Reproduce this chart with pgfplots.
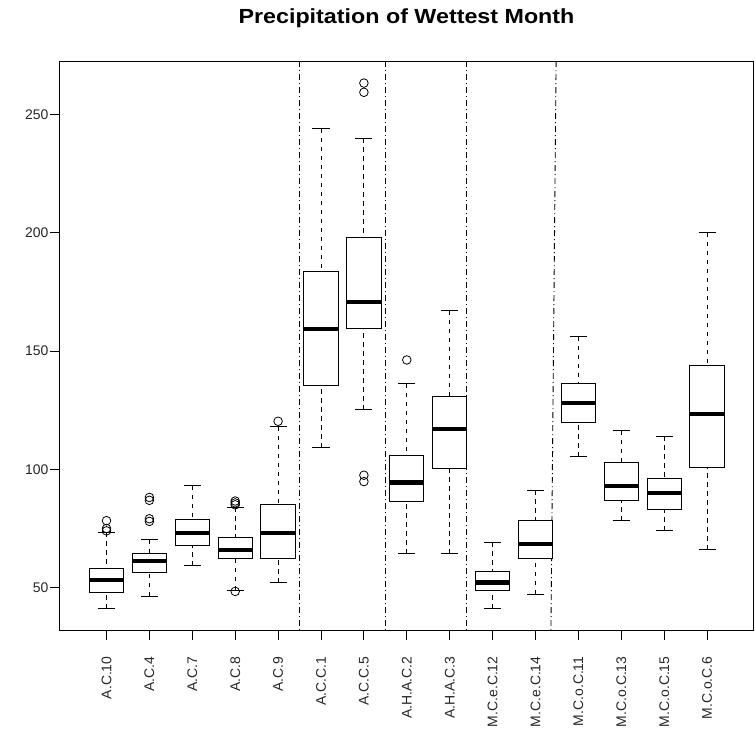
\documentclass[border=0pt]{standalone}
\usepackage{fontspec}
\setmainfont{Liberation Sans}
\usepackage{pgfplots}
\pgfplotsset{compat=1.18}
\usepgfplotslibrary{statistics}

\pgfplotsset{
  rbox/.style={
    black, mark=o, mark size=4.3bp,
    mark options={solid, line width=0.8bp, black},
    boxplot/draw direction=y,
    boxplot/box extend=0.8,
    boxplot/whisker extend=0.4,
    boxplot/every box/.style={draw=black, line width=1bp, fill=white},
    boxplot/every median/.style={line width=4.2bp, black},
    boxplot/draw/lower whisker/.code={
      \draw[black, line width=0.9bp, dash pattern=on 4.5bp off 4.5bp]
        (boxplot box cs:\pgfplotsboxplotvalue{lower whisker},0.5) --
        (boxplot box cs:\pgfplotsboxplotvalue{lower quartile},0.5);
      \draw[black, line width=1bp]
        (boxplot whisker cs:\pgfplotsboxplotvalue{lower whisker},0) --
        (boxplot whisker cs:\pgfplotsboxplotvalue{lower whisker},1);
    },
    boxplot/draw/upper whisker/.code={
      \draw[black, line width=0.9bp, dash pattern=on 4.5bp off 4.5bp]
        (boxplot box cs:\pgfplotsboxplotvalue{upper whisker},0.5) --
        (boxplot box cs:\pgfplotsboxplotvalue{upper quartile},0.5);
      \draw[black, line width=1bp]
        (boxplot whisker cs:\pgfplotsboxplotvalue{upper whisker},0) --
        (boxplot whisker cs:\pgfplotsboxplotvalue{upper whisker},1);
    },
  },
  sep/.style={black, line width=0.9bp, dash pattern=on 1bp off 3bp on 6bp off 3bp, mark=none},
}

\begin{document}
\begin{tikzpicture}
\begin{axis}[
  name=ax,
  scale only axis,
  width=693bp, height=568bp,
  xmin=-0.084, xmax=16.07,
  ymin=32.1, ymax=272.1,
  axis line style={line width=1bp, black},
  xtick={1,...,15},
  xticklabels={A.C.10,A.C.4,A.C.7,A.C.8,A.C.9,A.C.C.1,A.C.C.5,A.H.A.C.2,A.H.A.C.3,M.C.e.C.12,M.C.e.C.14,M.C.o.C.11,M.C.o.C.13,M.C.o.C.15,M.C.o.C.6},
  ytick={50,100,150,200,250},
  xtick pos=bottom, ytick pos=left,
  tick align=outside,
  major tick length=10bp,
  tick style={black, line width=0.9bp},
  /pgf/number format/assume math mode=true,
  ticklabel style={font=\fontsize{14}{14}\selectfont, text=black!85},
  xticklabel style={rotate=90, anchor=east},
  xticklabel shift=13bp,
  yticklabel shift=-2bp,
  clip=false,
]
\addplot[sep] coordinates {(5.49,32.1) (5.49,272.1)};
\addplot[sep] coordinates {(7.51,32.1) (7.51,272.1)};
\addplot[sep] coordinates {(9.40,32.1) (9.40,272.1)};
\addplot[sep] coordinates {(11.36,32.1) (11.48,272.1)};

\addplot[rbox, boxplot prepared={draw position=1, lower whisker=41.0, lower quartile=48.1, median=53.1, upper quartile=58.1, upper whisker=73.3}]
  coordinates {(0,78.3) (0,75.0) (0,74.0)};
\addplot[rbox, boxplot prepared={draw position=2, lower whisker=46.4, lower quartile=56.2, median=61.2, upper quartile=64.3, upper whisker=70.2}]
  coordinates {(0,88.1) (0,86.9) (0,79.1) (0,78.0)};
\addplot[rbox, boxplot prepared={draw position=3, lower whisker=59.3, lower quartile=67.9, median=73.2, upper quartile=78.8, upper whisker=93.1}]
  coordinates {};
\addplot[rbox, boxplot prepared={draw position=4, lower whisker=48.9, lower quartile=62.5, median=66.0, upper quartile=71.0, upper whisker=83.9}]
  coordinates {(0,86.6) (0,85.8) (0,85.0) (0,48.4)};
\addplot[rbox, boxplot prepared={draw position=5, lower whisker=52.0, lower quartile=62.5, median=73.2, upper quartile=85.0, upper whisker=118.0}]
  coordinates {(0,120.3)};
\addplot[rbox, boxplot prepared={draw position=6, lower whisker=109.1, lower quartile=135.3, median=159.3, upper quartile=183.5, upper whisker=243.8}]
  coordinates {};
\addplot[rbox, boxplot prepared={draw position=7, lower whisker=125.2, lower quartile=159.3, median=170.6, upper quartile=197.9, upper whisker=239.9}]
  coordinates {(0,263.2) (0,259.3) (0,97.5) (0,94.8)};
\addplot[rbox, boxplot prepared={draw position=8, lower whisker=64.3, lower quartile=86.3, median=94.4, upper quartile=106.0, upper whisker=136.1}]
  coordinates {(0,146.2)};
\addplot[rbox, boxplot prepared={draw position=9, lower whisker=64.3, lower quartile=100.3, median=116.9, upper quartile=130.9, upper whisker=167.0}]
  coordinates {};
\addplot[rbox, boxplot prepared={draw position=10, lower whisker=41.0, lower quartile=48.6, median=52.2, upper quartile=57.0, upper whisker=69.1}]
  coordinates {};
\addplot[rbox, boxplot prepared={draw position=11, lower whisker=47.2, lower quartile=62.5, median=68.4, upper quartile=78.3, upper whisker=91.2}]
  coordinates {};
\addplot[rbox, boxplot prepared={draw position=12, lower whisker=105.3, lower quartile=119.7, median=128.0, upper quartile=136.4, upper whisker=156.1}]
  coordinates {};
\addplot[rbox, boxplot prepared={draw position=13, lower whisker=78.3, lower quartile=87.0, median=93.1, upper quartile=102.9, upper whisker=116.3}]
  coordinates {};
\addplot[rbox, boxplot prepared={draw position=14, lower whisker=74.1, lower quartile=83.2, median=90.0, upper quartile=96.1, upper whisker=114.0}]
  coordinates {};
\addplot[rbox, boxplot prepared={draw position=15, lower whisker=66.0, lower quartile=100.6, median=123.2, upper quartile=143.7, upper whisker=199.9}]
  coordinates {};
\end{axis}
\node[font=\bfseries\fontsize{20.5}{20.5}\selectfont] at ([yshift=44bp]ax.north) {\scalebox{1.14}[1]{Precipitation of Wettest Month}};
\pgfresetboundingbox
\path[use as bounding box] ([shift={(-60bp,-105bp)}]ax.south west) rectangle ([shift={(2bp,62bp)}]ax.north east);
\end{tikzpicture}
\end{document}
